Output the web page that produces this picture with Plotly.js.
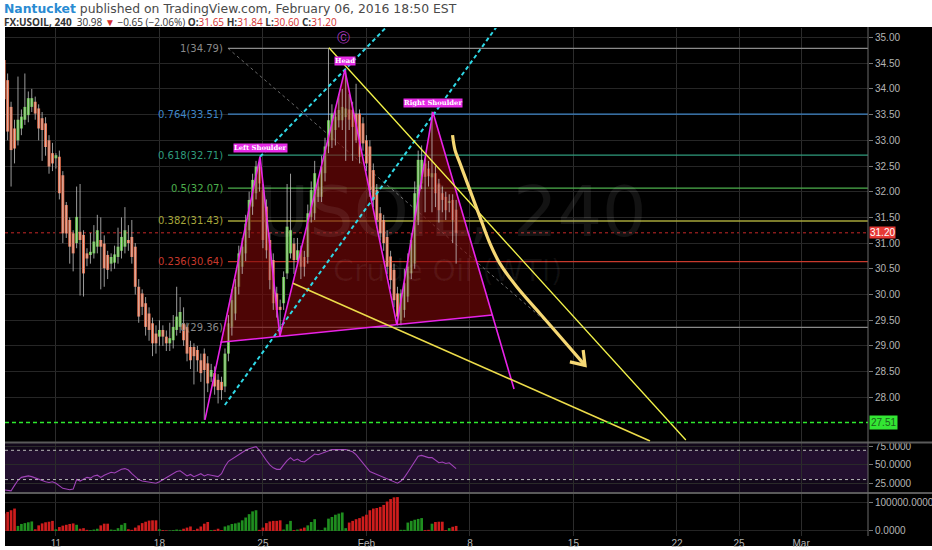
<!DOCTYPE html>
<html><head><meta charset="utf-8">
<script src="https://cdn.plot.ly/plotly-3.0.1.min.js"></script>
<style>html,body{margin:0;padding:0;background:#fff}#chart{width:932px;height:550px}</style>
</head><body><div id="chart"></div>
<script>
// ---- 4h bars (USOIL, 240), trading-day index: Jan 11 = 0 ----
const firstBarDay = -2.5;
const barsPerDay = 6;
const barOpen = [
34.56,34.17,33.65,33.23,33.00,33.23,33.40,33.49,33.65,33.75,
33.62,33.43,33.33,33.00,32.75,32.65,32.68,32.32,31.74,31.45,
31.19,31.00,31.22,31.16,30.80,30.77,30.80,30.93,31.06,30.99,
30.77,30.60,30.62,30.73,30.85,30.93,31.06,31.12,30.93,30.15,
30.02,29.83,29.63,29.44,29.24,29.18,29.31,29.18,29.05,29.11,
29.31,29.37,29.44,29.37,28.98,28.98,28.92,28.72,28.85,28.66,
28.40,28.47,28.34,28.30,28.21,28.85,29.37,29.63,30.15,30.54,
30.80,31.25,31.71,31.97,32.49,32.03,31.71,31.06,30.67,30.02,
29.76,29.83,30.41,30.80,30.99,30.67,30.86,30.73,30.73,31.51,
31.58,31.90,31.90,32.36,32.88,33.00,33.20,33.39,33.39,33.45,
33.60,33.59,33.52,33.52,33.33,33.00,32.88,32.42,32.03,31.58,
31.45,31.12,30.74,30.48,30.02,29.50,29.70,29.96,30.41,30.60,
31.45,32.16,32.55,32.45,32.28,32.36,32.16,31.97,31.90,31.78,
31.84,31.65];
const barHigh = [
34.65,34.30,33.75,33.40,34.24,33.60,34.30,33.95,34.00,33.85,
33.70,33.55,33.45,33.10,32.95,32.75,32.80,32.40,31.80,31.50,
31.25,32.10,32.15,31.25,30.90,31.20,31.35,31.55,31.50,31.15,
30.85,30.80,30.95,31.30,31.50,31.70,31.35,31.45,31.00,30.30,
30.10,29.95,29.75,29.55,29.40,29.50,29.40,29.30,29.45,29.60,
30.15,29.95,29.75,29.45,29.10,29.05,29.00,28.85,28.95,28.80,
28.65,28.60,28.45,28.40,28.95,29.60,30.10,30.30,30.95,31.10,
31.55,32.00,32.35,32.60,32.68,32.15,31.85,31.20,30.80,30.15,
29.90,30.45,32.15,32.35,31.10,31.10,30.95,30.85,31.75,32.20,
32.60,32.25,32.70,33.05,34.79,33.70,33.60,33.90,34.00,34.37,
33.90,33.75,34.10,33.60,33.45,33.10,33.00,32.55,32.15,31.70,
31.55,31.25,30.85,30.60,30.15,30.10,30.50,30.80,31.20,32.20,
32.80,32.90,32.65,32.60,33.56,32.50,32.25,32.10,32.00,31.95,
31.95,31.84];
const barLow = [
33.70,33.00,32.10,32.55,32.90,33.10,33.30,33.35,33.55,33.40,
33.00,32.60,32.70,32.35,32.40,32.45,31.85,31.00,31.10,30.60,
30.45,30.90,29.98,29.96,30.55,30.60,30.70,30.80,30.10,30.15,
30.30,30.45,30.50,30.60,30.70,30.80,30.85,30.60,30.00,29.45,
29.60,29.20,29.10,28.80,28.85,29.00,29.00,28.90,28.90,28.95,
29.20,29.25,29.00,28.70,28.55,28.25,28.50,28.30,27.56,28.10,
28.30,28.05,27.88,27.95,28.10,28.70,29.20,29.50,30.00,30.40,
30.65,31.10,31.55,31.85,32.00,30.90,30.70,30.10,29.70,29.55,
29.18,29.70,30.30,30.70,30.40,30.55,30.30,30.35,30.60,31.40,
31.45,31.80,31.80,32.20,32.75,32.85,32.90,33.25,33.20,32.60,
33.20,32.60,32.95,32.55,32.80,32.40,31.90,31.70,31.30,31.05,
30.85,30.40,30.10,29.75,29.40,29.40,29.55,29.85,30.30,30.50,
31.35,32.05,31.60,32.10,31.60,31.70,31.40,31.60,31.45,31.60,
31.00,30.60];
const barClose = [
33.80,33.17,32.81,32.84,33.40,33.46,33.65,33.82,33.82,33.52,
33.23,33.20,32.87,32.49,32.55,32.71,31.97,31.19,31.19,30.93,
30.80,31.51,31.06,30.41,30.70,30.83,31.03,31.25,30.93,30.51,
30.48,30.73,30.78,30.93,31.12,31.25,31.00,30.73,30.15,29.57,
29.76,29.37,29.31,29.05,29.05,29.31,29.18,29.05,29.15,29.37,
29.57,29.66,29.11,28.85,28.72,28.80,28.72,28.47,28.53,28.27,
28.53,28.21,28.14,28.14,28.85,29.44,29.89,30.15,30.80,30.93,
31.38,31.84,32.23,32.49,32.16,31.06,30.86,30.28,29.83,29.70,
29.70,30.34,31.32,31.25,30.67,30.86,30.54,30.54,31.58,32.03,
32.36,32.10,32.49,32.88,33.39,33.52,33.46,33.59,33.65,33.62,
33.40,33.26,33.00,32.68,32.94,32.55,32.03,31.84,31.45,31.19,
31.00,30.54,30.28,29.89,29.57,30.02,30.22,30.54,31.06,31.97,
32.62,32.62,32.29,32.30,32.36,31.97,31.64,31.84,31.64,31.82,
31.45,31.20];
const barVolume = [
62000,68000,74000,80000,18000,25000,28000,31000,34000,6000,
20000,27000,31000,33000,36000,6000,14000,19000,22000,25000,
27000,22000,8000,10000,4000,3000,5000,8000,20000,26000,
26000,5000,4000,10000,22000,28000,6000,4000,12000,20000,
28000,33000,37000,38000,38000,6000,3000,2000,2000,3000,
5000,4000,8000,12000,16000,3000,8000,16000,26000,32000,
3000,4000,8000,3000,16000,20000,25000,27000,30000,38000,
48000,60000,70000,74000,4000,12000,28000,34000,36000,36000,
38000,5000,24000,36000,3000,5000,8000,12000,20000,32000,
42000,4000,3000,12000,44000,50000,58000,62000,66000,10000,
30000,36000,42000,46000,52000,58000,74000,80000,82000,86000,
93000,105000,114000,120000,121000,4000,4000,30000,36000,40000,
43000,46000,3000,4000,26000,32000,33000,33000,3000,10000,
15000,18000];
const barRSI = [
16,15,14.5,22,29,33,34,35,34,32,
30,29,27,26,27,25,21,18,17,16,
17,30,28,31,33,32,35,36,33,36,
38,40,39,42,44,45,43,38,34,30,
28,27,26,25,25,27,30,33,36,38,
41,42,38,35,37,34,36,38,35,37,
36,35,34,38,48,55,58,62,65,68,
70,72,74,75,70,62,56,50,46,44,
44,50,56,60,56,58,55,54,58,62,
65,64,66,68,70,71,71,71.5,71,71,
70,68,64,58,52,46,41,39,37,35,
34,32,29,27,25,28,33,40,48,55,
62,63,61,60,60,56,53,54,52,53,
49,45];

// ---- axis ticks ----
const tickDays = [0,5,10,15,20,25,30,33,36];
const tickLabels = ['11','18','25','Feb','8','15','22','25','Mar'];
const priceTicks = [28,28.5,29,29.5,30,30.5,31,31.5,32,32.5,33,33.5,34,34.5,35];
const rsiTicks = [25,50,75];
const volumeTicks = [0,100000];

// ---- Fibonacci retracement ----
const fibRatios = ['1','0.764','0.618','0.5','0.382','0.236','0'];
const fibPrices = [34.79,33.51,32.71,32.07,31.43,30.64,29.36];
const fibTrendDays = [8.31,24.0];
const fibTrendPrices = [34.79,29.36];

// ---- Head & Shoulders ----
const hsDays = [7.20,9.86,10.82,13.96,16.47,18.21,22.13];
const hsPrices = [27.56,32.68,29.19,34.37,29.41,33.55,28.16];
const hsLabels = ['Left Shoulder','Head','Right Shoulder'];
const necklineDays = [7.95,21.08];
const necklinePrices = [29.07,29.60];

// ---- other drawings ----
const channelADays = [9.86,16.2];
const channelAPrices = [32.68,35.3];
const channelBDays = [8.16,21.45];
const channelBPrices = [27.85,35.3];
const trendUpperDays = [13.19,30.43];
const trendUpperPrices = [34.80,27.17];
const trendLowerDays = [11.45,28.70];
const trendLowerPrices = [30.22,27.15];
const arrowDays = [19.16,19.28,19.52,20.00,20.48,20.97,21.45,22.26,23.38,24.51,25.56];
const arrowPrices = [33.10,32.81,32.55,32.03,31.51,30.99,30.60,30.15,29.63,29.11,28.62];
const arrowHeadDays = [24.83,25.56,25.47];
const arrowHeadPrices = [28.69,28.62,28.92];
const waveLabelDay = 13.91;
const waveLabelPrice = 35.0;
const lastPrice = 31.20;
const supportLevel = 27.51;
const rsiUpper = 70, rsiLower = 30;

// ---- build ----
const xRange = [-2.46, 39.23];
const n = barClose.length;
const tradingDay = barClose.map((_, i) => firstBarDay + i / barsPerDay);
const isUp = barClose.map((c, i) => c >= barOpen[i]);
const UP = '#62c246', DOWN = '#e8714e';

const wickX = [], wickY = [];
for (let i = 0; i < n; i++) { wickX.push(tradingDay[i], tradingDay[i], null); wickY.push(barLow[i], barHigh[i], null); }

const fillX = [necklineDays[0]].concat(hsDays.slice(1, 6), [necklineDays[1], necklineDays[0]]);
const fillY = [necklinePrices[0]].concat(hsPrices.slice(1, 6), [necklinePrices[1], necklinePrices[0]]);

const traces = [
  {type:'scatter', x:fillX, y:fillY, fill:'toself', fillcolor:'rgba(125,8,8,0.62)', line:{width:0}, mode:'lines', xaxis:'x', yaxis:'y', hoverinfo:'skip'},
  {type:'scatter', x:wickX, y:wickY, mode:'lines', line:{color:'rgba(205,205,205,0.75)', width:1}, xaxis:'x', yaxis:'y', hoverinfo:'skip'},
  {type:'bar', x:tradingDay, base:barOpen, y:barClose.map((c, i) => c - barOpen[i]), width:0.14,
   marker:{color:isUp.map(u => u ? UP : DOWN), line:{width:0}}, xaxis:'x', yaxis:'y', hoverinfo:'skip'},
  {type:'scatter', x:channelADays, y:channelAPrices, mode:'lines', line:{color:'#2fd8e6', width:2, dash:'4px,3px'}, xaxis:'x', yaxis:'y'},
  {type:'scatter', x:channelBDays, y:channelBPrices, mode:'lines', line:{color:'#2fd8e6', width:2, dash:'4px,3px'}, xaxis:'x', yaxis:'y'},
  {type:'scatter', x:hsDays, y:hsPrices, mode:'lines', line:{color:'#e823e8', width:1.6}, xaxis:'x', yaxis:'y'},
  {type:'scatter', x:necklineDays, y:necklinePrices, mode:'lines', line:{color:'#e823e8', width:1.6}, xaxis:'x', yaxis:'y'},
  {type:'scatter', x:trendUpperDays, y:trendUpperPrices, mode:'lines', line:{color:'#f5f54a', width:1.3}, xaxis:'x', yaxis:'y'},
  {type:'scatter', x:trendLowerDays, y:trendLowerPrices, mode:'lines', line:{color:'#ecdc4a', width:1.6}, xaxis:'x', yaxis:'y'},
  {type:'scatter', x:arrowDays, y:arrowPrices, mode:'lines', line:{color:'#f6d874', width:3.2, shape:'spline'}, xaxis:'x', yaxis:'y'},
  {type:'scatter', x:arrowHeadDays, y:arrowHeadPrices, mode:'lines', line:{color:'#f6d874', width:3.2}, xaxis:'x', yaxis:'y'},
  {type:'scatter', x:tradingDay, y:barRSI, mode:'lines', line:{color:'#a043b8', width:1.1}, xaxis:'x', yaxis:'y2'},
  {type:'bar', x:tradingDay, y:barVolume, width:0.13, marker:{color:isUp.map(u => u ? '#1f8e1f' : '#cf1d1d'), line:{width:0}}, xaxis:'x', yaxis:'y3'}
];

// pixel helpers for paper-anchored decorations (layout only)
const PX = px => (px - 5) / 863;
const PY = py => (536 - py) / 508;

const fibColors = ['#8a8a8a','#3f86c8','#2f9b7c','#4caf4c','#a6a63a','#c8392c','#8a8a8a'];
const shapes = [
  {type:'rect', xref:'paper', yref:'paper', x0:PX(5), x1:PX(932), y0:PY(546), y1:PY(27), fillcolor:'#000', line:{width:0}, layer:'below'},
  {type:'rect', xref:'paper', yref:'y2', x0:0, x1:1, y0:13, y1:80, fillcolor:'#12081a', line:{width:0}, layer:'below'},
  {type:'rect', xref:'paper', yref:'y2', x0:0, x1:1, y0:rsiLower, y1:rsiUpper, fillcolor:'#23102f', line:{width:0}, layer:'below'},
  {type:'line', xref:'paper', yref:'y2', x0:0, x1:1, y0:rsiUpper, y1:rsiUpper, line:{color:'#b8b8b8', width:1, dash:'dot'}},
  {type:'line', xref:'paper', yref:'y2', x0:0, x1:1, y0:rsiLower, y1:rsiLower, line:{color:'#b8b8b8', width:1, dash:'dot'}},
  {type:'line', xref:'paper', yref:'paper', x0:PX(5), x1:PX(932), y0:PY(442.5), y1:PY(442.5), line:{color:'#5a5a5a', width:2}},
  {type:'line', xref:'paper', yref:'paper', x0:PX(5), x1:PX(932), y0:PY(493), y1:PY(493), line:{color:'#5a5a5a', width:2}},
  {type:'line', xref:'paper', yref:'paper', x0:1, x1:1, y0:PY(536), y1:PY(27), line:{color:'#6a6a6a', width:1}},
  {type:'line', xref:'x', yref:'y', x0:fibTrendDays[0], x1:fibTrendDays[1], y0:fibTrendPrices[0], y1:fibTrendPrices[1], line:{color:'#6a6a6a', width:1, dash:'dot'}, layer:'between'},
  {type:'line', xref:'paper', yref:'y', x0:0, x1:1, y0:lastPrice, y1:lastPrice, line:{color:'#c62828', width:1, dash:'dot'}, layer:'between'},
  {type:'line', xref:'paper', yref:'y', x0:0, x1:1, y0:supportLevel, y1:supportLevel, line:{color:'#2ee82e', width:1.5, dash:'4px,3px'}}
];
fibPrices.forEach((p, k) => shapes.push({type:'line', xref:'x', yref:'y', x0:fibTrendDays[0], x1:xRange[1], y0:p, y1:p, line:{color:fibColors[k], width:1.3}, layer:'between'}));

const RED = '#d32f2f';
const annotations = [
  {xref:'paper', yref:'paper', x:PX(3), y:PY(8), xanchor:'left', yanchor:'middle', showarrow:false, borderpad:0,
   text:"<b><span style='color:#2a8bd2'>Nantucket</span></b> published on TradingView.com, February 06, 2016 18:50 EST",
   font:{family:'DejaVu Sans', size:12.4, color:'#4a4a4a'}},
  {xref:'paper', yref:'paper', x:PX(3), y:PY(21.8), xanchor:'left', yanchor:'middle', showarrow:false, borderpad:0,
   text:"<b>FX:USOIL, 240</b>  30.98 <span style='color:" + RED + "'>▼</span> −0.65 (−2.06%) <b>O:</b><span style='color:" + RED + "'>31.65</span> <b>H:</b><span style='color:" + RED + "'>31.84</span> <b>L:</b><span style='color:" + RED + "'>30.60</span> <b>C:</b><span style='color:" + RED + "'>31.20</span>",
   font:{family:'Open Sans', size:10, color:'#333'}},
  {xref:'paper', yref:'paper', x:PX(452), y:PY(212), showarrow:false, text:'USOIL, 240',
   font:{family:'DejaVu Sans', size:70, color:'rgba(255,255,255,0.075)'}},
  {xref:'paper', yref:'paper', x:PX(447), y:PY(270), showarrow:false, text:'Crude Oil (WTI)',
   font:{family:'DejaVu Sans', size:30, color:'rgba(255,255,255,0.06)'}},
  {xref:'paper', yref:'y', x:1, xanchor:'left', xshift:1, y:lastPrice, showarrow:false, text:lastPrice.toFixed(2),
   bgcolor:'#e53935', borderpad:0, font:{family:'Arial', size:10, color:'#fff'}},
  {xref:'paper', yref:'y', x:1, xanchor:'left', xshift:1, y:supportLevel, showarrow:false, text:supportLevel.toFixed(2),
   bgcolor:'#33e633', borderpad:1, font:{family:'Arial', size:10, color:'#1b5e1b'}},
  {xref:'x', yref:'y', x:waveLabelDay, y:waveLabelPrice, showarrow:false, text:'Ⓒ',
   font:{family:'DejaVu Sans', size:13, color:'#b03cc0'}}
];
fibPrices.forEach((p, k) => annotations.push({xref:'x', yref:'y', x:fibTrendDays[0], y:p, xanchor:'right', xshift:-3, showarrow:false,
  text:fibRatios[k] + '(' + p.toFixed(2) + ')', font:{family:'DejaVu Sans', size:10, color:fibColors[k]}}));
[1,3,5].forEach((idx, k) => annotations.push({xref:'x', yref:'y', x:hsDays[idx], y:hsPrices[idx], yshift:9, showarrow:false,
  text:'<b>' + hsLabels[k] + '</b>', bgcolor:'#e62ae6', borderpad:0, font:{family:'DejaVu Serif', size:6.8, color:'#fff'}}));

const axisFont = {family:'Arial', size:10, color:'#b4b4b4'};
const layout = {
  width:932, height:550,
  margin:{l:5, r:64, t:28, b:14},
  paper_bgcolor:'#ffffff', plot_bgcolor:'#000000',
  showlegend:false, hovermode:false, barmode:'overlay',
  xaxis:{range:xRange, tickvals:tickDays, ticktext:tickLabels, showgrid:true, gridcolor:'#2c2c2c', zeroline:false,
         anchor:'y3', tickfont:axisFont, ticks:'', showline:false, fixedrange:true},
  yaxis:{domain:[PY(442), 1], range:[27.13, 35.185], side:'right', tickvals:priceTicks, tickformat:'.2f',
         gridcolor:'#262626', zeroline:false, ticks:'outside', ticklen:4, tickcolor:'#777', tickfont:axisFont, showline:false},
  yaxis2:{domain:[PY(492), PY(443)], range:[13, 80], side:'right', tickvals:rsiTicks, tickformat:'.4f',
          gridcolor:'#2a2a2a', zeroline:false, ticks:'outside', ticklen:4, tickcolor:'#777', tickfont:axisFont, showline:false},
  yaxis3:{domain:[0, PY(494)], range:[-18000, 132000], side:'right', tickvals:volumeTicks, tickformat:'.4f',
          gridcolor:'#242424', zeroline:false, ticks:'outside', ticklen:4, tickcolor:'#777', tickfont:axisFont, showline:false},
  shapes:shapes, annotations:annotations
};
Plotly.newPlot('chart', traces, layout, {staticPlot:true, displayModeBar:false});
</script></body></html>
